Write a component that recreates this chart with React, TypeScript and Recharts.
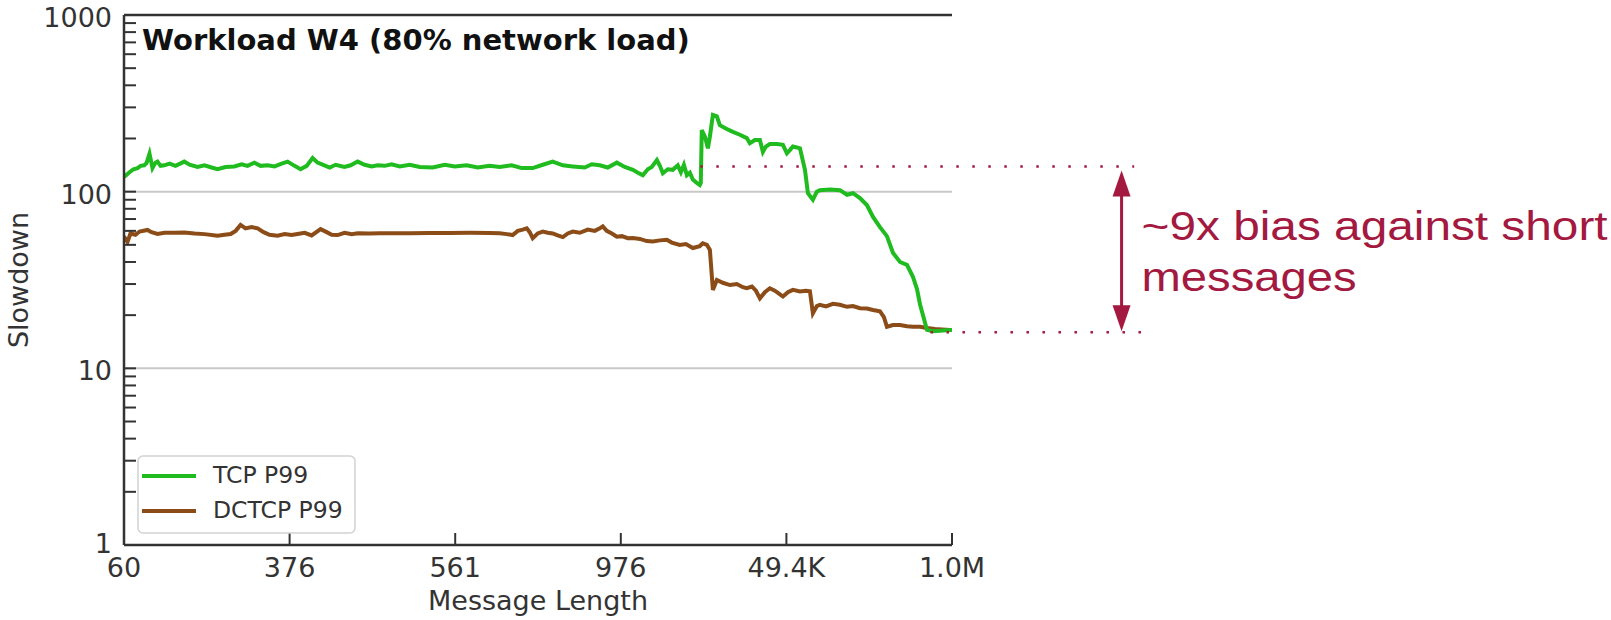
import React from 'react';
import { LineChart, Line, XAxis, YAxis, ReferenceLine, Legend } from 'recharts';

// x axis is in tick-index units: tick i sits at x = i
const xTicks = [0, 1, 2, 3, 4, 5];
const xTickLabels = ['60', '376', '561', '976', '49.4K', '1.0M'];

const yMajorTicks = [1, 10, 100, 1000];
const yTicks = [
  1, 2, 3, 4, 5, 6, 7, 8, 9,
  10, 20, 30, 40, 50, 60, 70, 80, 90,
  100, 200, 300, 400, 500, 600, 700, 800, 900,
  1000,
];

const tcpPos = [
  0, 0.021, 0.039, 0.057, 0.082, 0.1, 0.122, 0.136, 0.154, 0.172, 0.19, 0.202, 0.221, 0.243,
  0.275, 0.311, 0.364, 0.396, 0.444, 0.486, 0.529, 0.565, 0.613, 0.666, 0.71, 0.746, 0.787,
  0.825, 0.867, 0.909, 0.952, 0.988, 1.03, 1.066, 1.103, 1.139, 1.169, 1.21, 1.242, 1.278,
  1.331, 1.369, 1.411, 1.453, 1.495, 1.532, 1.574, 1.616, 1.665, 1.725, 1.786, 1.864, 1.937,
  1.997, 2.069, 2.136, 2.208, 2.269, 2.341, 2.402, 2.468, 2.529, 2.589, 2.65, 2.71, 2.782,
  2.825, 2.873, 2.921, 2.976, 3.024, 3.073, 3.103, 3.133, 3.163, 3.187, 3.218, 3.236, 3.254,
  3.284, 3.314, 3.344, 3.363, 3.381, 3.399, 3.417, 3.435, 3.459, 3.477, 3.483, 3.489, 3.508,
  3.526, 3.538, 3.556, 3.58, 3.598, 3.634, 3.677, 3.719, 3.761, 3.779, 3.81, 3.84, 3.858,
  3.876, 3.9, 3.943, 3.979, 4.003, 4.021, 4.039, 4.063, 4.082, 4.112, 4.13, 4.16, 4.184,
  4.202, 4.263, 4.323, 4.366, 4.402, 4.444, 4.486, 4.523, 4.565, 4.607, 4.644, 4.686, 4.728,
  4.764, 4.789, 4.807, 4.831, 4.849, 4.885, 4.927, 4.988, 5,
];
const tcpP99 = [
  121, 126, 130, 134, 136, 140, 141, 145, 164, 136, 146, 148, 140, 141,
  144, 140, 148, 142, 138, 141, 137, 134, 138, 139, 143, 140, 146,
  140, 141, 139, 144, 148, 140, 134, 140, 155, 146, 141, 137, 142,
  138, 141, 148, 142, 139, 141, 140, 143, 139, 142, 138, 137, 142,
  139, 141, 137, 140, 138, 141, 136, 136, 142, 148, 141, 139, 137,
  143, 141, 137, 146, 138, 133, 128, 124, 134, 138, 151, 140, 127,
  134, 133, 141, 129, 142, 124, 128, 117, 112, 109, 112, 223, 205,
  176, 205, 272, 267, 238, 228, 218, 210, 201, 188, 196, 196, 168,
  180, 186, 186, 184, 165, 172, 180, 178, 176, 133, 98, 90, 100,
  102, 103, 102, 96, 98, 92, 84, 72, 63, 56, 45, 40, 38.5,
  33, 28, 23, 19, 16.5, 16.2, 16.3, 16.5, 16.5,
];

const dctcpPos = [
  0, 0.021, 0.039, 0.069, 0.094, 0.142, 0.166, 0.202, 0.245, 0.305, 0.364, 0.426, 0.486,
  0.565, 0.607, 0.644, 0.674, 0.704, 0.734, 0.77, 0.807, 0.843, 0.879, 0.927, 0.97, 1.012,
  1.048, 1.091, 1.133, 1.187, 1.224, 1.254, 1.29, 1.332, 1.375, 1.411, 1.483, 1.544, 1.634,
  1.725, 1.846, 1.967, 2.088, 2.208, 2.269, 2.311, 2.347, 2.378, 2.408, 2.432, 2.45, 2.468,
  2.498, 2.529, 2.559, 2.589, 2.619, 2.65, 2.68, 2.71, 2.752, 2.801, 2.843, 2.873, 2.891,
  2.915, 2.946, 2.976, 3.006, 3.042, 3.073, 3.115, 3.157, 3.193, 3.236, 3.278, 3.308, 3.356,
  3.393, 3.435, 3.477, 3.495, 3.52, 3.538, 3.556, 3.58, 3.616, 3.659, 3.701, 3.737, 3.761,
  3.792, 3.816, 3.84, 3.87, 3.9, 3.93, 3.955, 3.979, 4.009, 4.039, 4.082, 4.118, 4.142,
  4.16, 4.184, 4.202, 4.239, 4.281, 4.323, 4.366, 4.402, 4.444, 4.486, 4.523, 4.565, 4.589,
  4.607, 4.644, 4.686, 4.728, 4.764, 4.807, 4.849, 4.897, 4.94, 4.988, 5,
];
const dctcpP99 = [
  55.6, 52, 58, 57, 59.5, 60.7, 59, 57.6, 58.5, 58.5, 58.8, 58, 57.5,
  56.3, 57, 57.6, 60, 64.8, 62, 63, 62, 59, 57, 56.3, 57.5, 56.8,
  57.6, 58.5, 56.5, 61.4, 59, 57, 56.8, 58.5, 57.5, 58.1, 58, 58.2, 58.1,
  58.1, 58.3, 58.4, 58.5, 58.3, 58.1, 57.5, 56.8, 60, 61, 62, 59, 54.6,
  58, 59.4, 58.5, 58, 56.5, 55.3, 58, 59.4, 58.5, 61, 60, 62, 63.6,
  60, 58, 55.6, 56, 54.5, 54.6, 54, 52.5, 52.2, 53, 53.4, 51.5, 49.9,
  50.5, 48, 49.2, 51, 50, 46.8, 27.8, 31.6, 30.5, 29.6, 30, 28.8, 28.4,
  29, 27.5, 24.9, 27, 28.4, 27.5, 26.5, 25.5, 27, 27.8, 27.2, 27.5, 27.3,
  20.5, 22.5, 22.9, 22.4, 23.2, 22.9, 22.3, 22.5, 21.9, 21.8, 21.4, 21.0, 19.5,
  17.2, 17.6, 17.6, 17.3, 17.2, 17.2, 16.9, 16.7, 16.6, 16.5, 16.5,
];

// gap annotation: short-message TCP tail vs. long-message tail
const biasTop = 139;
const biasBottom = 16;
const biasTopSpan = [3.48, 6.1];
const biasBottomSpan = [4.87, 6.17];
const arrowAt = 6.024;

const seriesOrder = ['TCP P99', 'DCTCP P99'];

const tcpData = tcpPos.map((x, i) => ({ x, y: tcpP99[i] }));
const dctcpData = dctcpPos.map((x, i) => ({ x, y: dctcpP99[i] }));

const FRAME = '#333';
const TEXT = '#333';
const NOTE = '#a3193f';
const FONT = 'DejaVu Sans';

const LeftTick = ({ x, y, payload }: any) => {
  const v = payload.value;
  // the bottom label sits a bit higher so it clears the first x label
  const dy = v === 1 ? 8 : 12;
  return (
    <g>
      <line x1={x} x2={x + 12} y1={y} y2={y} stroke={FRAME} strokeWidth={2} />
      {yMajorTicks.includes(v) && (
        <text x={x - 12} y={y + dy} textAnchor="end" fontSize={27} fontFamily={FONT} fill={TEXT}>
          {v}
        </text>
      )}
    </g>
  );
};

const RightTick = ({ x, y }: any) => (
  <line x1={x - 12} x2={x} y1={y} y2={y} stroke={FRAME} strokeWidth={2} />
);

const BottomTick = ({ x, y, payload }: any) => (
  <g>
    <line x1={x} x2={x} y1={y} y2={y - 12} stroke={FRAME} strokeWidth={2} />
    <text x={x} y={y + 32} textAnchor="middle" fontSize={27} fontFamily={FONT} fill={TEXT}>
      {xTickLabels[payload.index ?? xTicks.indexOf(payload.value)]}
    </text>
  </g>
);

const SlowdownLabel = (props: any) => {
  const vb = props.viewBox;
  const cy = vb ? vb.y + vb.height / 2 : 280;
  return (
    <text
      x={28}
      y={cy}
      transform={`rotate(-90 28 ${cy})`}
      textAnchor="middle"
      fontSize={27}
      fontFamily={FONT}
      fill={TEXT}
    >
      Slowdown
    </text>
  );
};

const BiasArrow = (props: any) => {
  const { x1, y1, y2 } = props;
  const top = Math.min(y1, y2) + 4;
  const bottom = Math.max(y1, y2) - 1;
  const mid = (top + bottom) / 2;
  return (
    <g>
      <line x1={x1} x2={x1} y1={top + 20} y2={bottom - 20} stroke={NOTE} strokeWidth={3} />
      <polygon points={`${x1},${top} ${x1 - 9},${top + 26} ${x1 + 9},${top + 26}`} fill={NOTE} />
      <polygon points={`${x1},${bottom} ${x1 - 9},${bottom - 26} ${x1 + 9},${bottom - 26}`} fill={NOTE} />
      <text
        x={x1 + 20}
        y={mid - 11}
        fontSize={40}
        fontFamily="Liberation Sans"
        fill={NOTE}
        textLength={466}
        lengthAdjust="spacingAndGlyphs"
      >
        ~9x bias against short
      </text>
      <text
        x={x1 + 20}
        y={mid + 40}
        fontSize={40}
        fontFamily="Liberation Sans"
        fill={NOTE}
        textLength={215}
        lengthAdjust="spacingAndGlyphs"
      >
        messages
      </text>
    </g>
  );
};

const renderLegend = (props: any) => {
  const items = [...(props.payload ?? [])].sort(
    (a: any, b: any) => seriesOrder.indexOf(a.value) - seriesOrder.indexOf(b.value),
  );
  return (
    <svg width={220} height={80} style={{ display: 'block' }}>
      <rect x={1} y={1} width={217} height={77} rx={5} fill="#fff" fillOpacity={0.85} stroke="#d2d2d2" strokeWidth={1.5} />
      {items.map((it: any, i: number) => (
        <g key={it.value} transform={`translate(0, ${21 + i * 35})`}>
          <line x1={5} x2={59} y1={0} y2={0} stroke={it.color} strokeWidth={4} />
          <text x={76} y={7} fontSize={23.5} fontFamily={FONT} fill={TEXT}>
            {it.value}
          </text>
        </g>
      ))}
    </svg>
  );
};

export default function App() {
  return (
    <div style={{ position: 'absolute', left: 0, top: 0, width: 1611, height: 620, background: '#fff' }}>
      <LineChart width={1611} height={620} margin={{ top: 15, right: 659, bottom: 0, left: 64 }}>
        <XAxis
          dataKey="x"
          type="number"
          domain={[0, 5]}
          ticks={xTicks}
          interval={0}
          allowDataOverflow
          height={75}
          tickSize={0}
          tickMargin={0}
          tick={<BottomTick />}
          axisLine={{ stroke: FRAME, strokeWidth: 2.5 }}
          tickLine={false}
          label={{ value: 'Message Length', position: 'insideBottom', offset: 10, fontSize: 27, fontFamily: FONT, fill: TEXT }}
        />
        <YAxis
          yAxisId="left"
          type="number"
          scale="log"
          domain={[1, 1000]}
          ticks={yTicks}
          interval={0}
          allowDataOverflow
          width={60}
          tickSize={0}
          tickMargin={0}
          tick={<LeftTick />}
          axisLine={{ stroke: FRAME, strokeWidth: 2.5 }}
          tickLine={false}
          label={<SlowdownLabel />}
        />
        <YAxis
          yAxisId="right"
          orientation="right"
          type="number"
          scale="log"
          domain={[1, 1000]}
          ticks={yTicks}
          interval={0}
          allowDataOverflow
          width={0}
          tickSize={0}
          tickMargin={0}
          tick={<RightTick />}
          axisLine={{ stroke: FRAME, strokeWidth: 2.5 }}
          tickLine={false}
        />
        <ReferenceLine yAxisId="left" y={10} stroke="#c8c8c8" strokeWidth={2} />
        <ReferenceLine yAxisId="left" y={100} stroke="#c8c8c8" strokeWidth={2} />
        <ReferenceLine yAxisId="left" y={1000} stroke={FRAME} strokeWidth={2.5} ifOverflow="visible" />
        <Line
          yAxisId="left"
          data={dctcpData}
          dataKey="y"
          name="DCTCP P99"
          type="linear"
          stroke="#8b4c18"
          strokeWidth={4}
          dot={false}
          isAnimationActive={false}
        />
        <Line
          yAxisId="left"
          data={tcpData}
          dataKey="y"
          name="TCP P99"
          type="linear"
          stroke="#1fbb1f"
          strokeWidth={4}
          dot={false}
          isAnimationActive={false}
        />
        <ReferenceLine
          yAxisId="left"
          segment={[{ x: biasTopSpan[0], y: biasTop }, { x: biasTopSpan[1], y: biasTop }]}
          stroke={NOTE}
          strokeWidth={2.5}
          strokeDasharray="2.5 13.5"
          ifOverflow="visible"
        />
        <ReferenceLine
          yAxisId="left"
          segment={[{ x: biasBottomSpan[0], y: biasBottom }, { x: biasBottomSpan[1], y: biasBottom }]}
          stroke={NOTE}
          strokeWidth={2.5}
          strokeDasharray="2.5 13.5"
          ifOverflow="visible"
        />
        <ReferenceLine
          yAxisId="left"
          segment={[{ x: arrowAt, y: biasTop }, { x: arrowAt, y: biasBottom }]}
          ifOverflow="visible"
          shape={BiasArrow}
        />
        <text x={142} y={50} fontSize={29} fontWeight="bold" fontFamily={FONT} fill="#111">
          Workload W4 (80% network load)
        </text>
        <Legend
          layout="vertical"
          align="center"
          verticalAlign="middle"
          wrapperStyle={{ left: 137, top: 455, width: 220, height: 80 }}
          content={renderLegend}
        />
      </LineChart>
    </div>
  );
}
